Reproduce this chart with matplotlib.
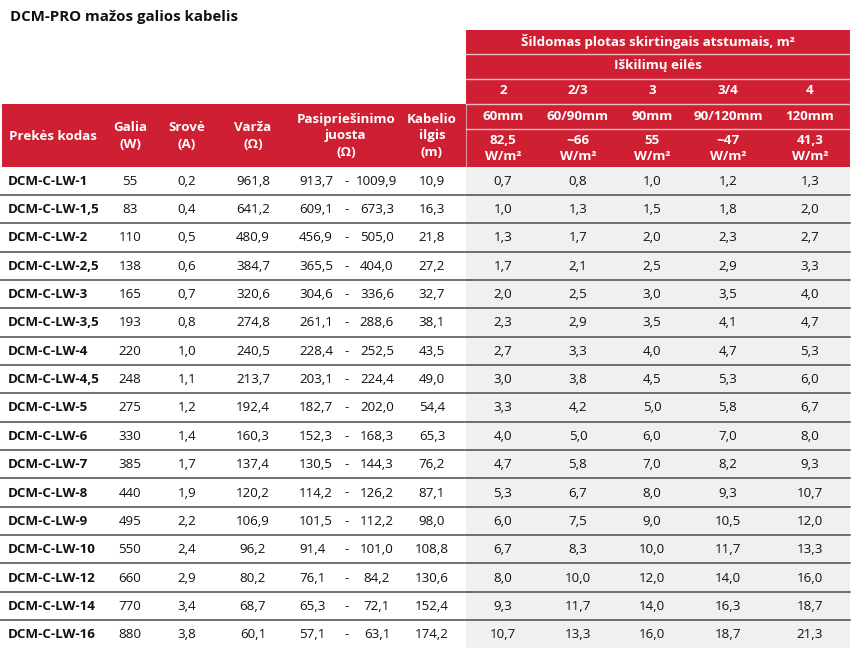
import matplotlib
matplotlib.use("Agg")
import matplotlib.pyplot as plt
from matplotlib.patches import Rectangle

plt.rcParams['font.family'] = ['Open Sans', 'DejaVu Sans']

title = "DCM-PRO mažos galios kabelis"
top_header = "Šildomas plotas skirtingais atstumais, m²"
sub_header = "Iškilimų eilės"
left_headers = ["Prekės kodas", "Galia\n(W)", "Srovė\n(A)", "Varža\n(Ω)",
                "Pasipriešinimo\njuosta\n(Ω)", "Kabelio\nilgis\n(m)"]
rows_labels = ["2", "2/3", "3", "3/4", "4"]
spacing_labels = ["60mm", "60/90mm", "90mm", "90/120mm", "120mm"]
power_labels = ["82,5\nW/m²", "~66\nW/m²", "55\nW/m²", "~47\nW/m²", "41,3\nW/m²"]

codes = ["DCM-C-LW-1", "DCM-C-LW-1,5", "DCM-C-LW-2", "DCM-C-LW-2,5", "DCM-C-LW-3",
         "DCM-C-LW-3,5", "DCM-C-LW-4", "DCM-C-LW-4,5", "DCM-C-LW-5", "DCM-C-LW-6",
         "DCM-C-LW-7", "DCM-C-LW-8", "DCM-C-LW-9", "DCM-C-LW-10", "DCM-C-LW-12",
         "DCM-C-LW-14", "DCM-C-LW-16"]
galia = [55, 83, 110, 138, 165, 193, 220, 248, 275, 330, 385, 440, 495, 550, 660, 770, 880]
srove = [0.2, 0.4, 0.5, 0.6, 0.7, 0.8, 1.0, 1.1, 1.2, 1.4, 1.7, 1.9, 2.2, 2.4, 2.9, 3.4, 3.8]
varza = [961.8, 641.2, 480.9, 384.7, 320.6, 274.8, 240.5, 213.7, 192.4, 160.3, 137.4,
         120.2, 106.9, 96.2, 80.2, 68.7, 60.1]
r_min = [913.7, 609.1, 456.9, 365.5, 304.6, 261.1, 228.4, 203.1, 182.7, 152.3, 130.5,
         114.2, 101.5, 91.4, 76.1, 65.3, 57.1]
r_max = [1009.9, 673.3, 505.0, 404.0, 336.6, 288.6, 252.5, 224.4, 202.0, 168.3, 144.3,
         126.2, 112.2, 101.0, 84.2, 72.1, 63.1]
ilgis = [10.9, 16.3, 21.8, 27.2, 32.7, 38.1, 43.5, 49.0, 54.4, 65.3, 76.2, 87.1, 98.0,
         108.8, 130.6, 152.4, 174.2]
area_2 = [0.7, 1.0, 1.3, 1.7, 2.0, 2.3, 2.7, 3.0, 3.3, 4.0, 4.7, 5.3, 6.0, 6.7, 8.0, 9.3, 10.7]
area_23 = [0.8, 1.3, 1.7, 2.1, 2.5, 2.9, 3.3, 3.8, 4.2, 5.0, 5.8, 6.7, 7.5, 8.3, 10.0, 11.7, 13.3]
area_3 = [1.0, 1.5, 2.0, 2.5, 3.0, 3.5, 4.0, 4.5, 5.0, 6.0, 7.0, 8.0, 9.0, 10.0, 12.0, 14.0, 16.0]
area_34 = [1.2, 1.8, 2.3, 2.9, 3.5, 4.1, 4.7, 5.3, 5.8, 7.0, 8.2, 9.3, 10.5, 11.7, 14.0, 16.3, 18.7]
area_4 = [1.3, 2.0, 2.7, 3.3, 4.0, 4.7, 5.3, 6.0, 6.7, 8.0, 9.3, 10.7, 12.0, 13.3, 16.0, 18.7, 21.3]

RED = "#cf1f33"
GREY = "#f0f0f0"
TXT = "#111111"
FS = 9.6

def fmt(v):
    return f"{v:.1f}".replace(".", ",")

fig = plt.figure(figsize=(8.56, 6.6), dpi=100)
ax = fig.add_axes([0, 0, 1, 1])
ax.set_xlim(0, 856)
ax.set_ylim(660, 0)
ax.axis("off")

# layout
x_left, x_mid, x_right = 2, 466, 850
y_head_top, y_l1, y_l2, y_l3, y_l4, y_head_bot = 29.5, 53.5, 78.5, 103.5, 128.5, 166.5
row_h = 28.35
n = len(codes)
y_bot = y_head_bot + n * row_h

ax.text(10, 17, title, fontsize=10.8, fontweight="bold", color=TXT, va="center", ha="left")

# header backgrounds
ax.add_patch(Rectangle((x_mid, y_head_top), x_right - x_mid, y_head_bot - y_head_top,
                       facecolor=RED, edgecolor="none"))
ax.add_patch(Rectangle((x_left, y_l3), x_mid - x_left, y_head_bot - y_l3,
                       facecolor=RED, edgecolor="none"))
for yy in [y_l1, y_l2, y_l3, y_l4]:
    ax.plot([x_mid, x_right], [yy, yy], color="white", lw=1.0, alpha=0.7)
ax.plot([x_mid, x_mid], [y_l3, y_head_bot], color="white", lw=0.8, alpha=0.5)

# grey data area
ax.add_patch(Rectangle((x_mid, y_head_bot), x_right - x_mid, y_bot - y_head_bot,
                       facecolor=GREY, edgecolor="none"))

right_cx = [503, 578, 652, 728, 810]
mid_r = (x_mid + x_right) / 2
hdr = dict(color="white", fontweight="bold", fontsize=FS, ha="center", va="center",
           linespacing=1.35)
ax.text(mid_r, (y_head_top + y_l1) / 2, top_header, **hdr)
ax.text(mid_r, (y_l1 + y_l2) / 2, sub_header, **hdr)
for cx, a, b, c in zip(right_cx, rows_labels, spacing_labels, power_labels):
    ax.text(cx, (y_l2 + y_l3) / 2, a, **hdr)
    ax.text(cx, (y_l3 + y_l4) / 2, b, **hdr)
    ax.text(cx, (y_l4 + y_head_bot) / 2 + 1, c, **hdr)

left_cx = [9, 130, 187, 253, 346, 432]
yc_left = (y_l3 + y_head_bot) / 2 + 1
for i, (cx, lab) in enumerate(zip(left_cx, left_headers)):
    kw = dict(hdr)
    if i == 0:
        kw["ha"] = "left"
    ax.text(cx, yc_left, lab, **kw)

# data rows
for i in range(n):
    yc = y_head_bot + (i + 0.5) * row_h + 0.5
    ax.text(8, yc, codes[i], fontsize=FS, fontweight="bold", color=TXT, ha="left", va="center")
    ax.text(left_cx[1], yc, str(galia[i]), fontsize=FS, color=TXT, ha="center", va="center")
    ax.text(left_cx[2], yc, fmt(srove[i]), fontsize=FS, color=TXT, ha="center", va="center")
    ax.text(left_cx[3], yc, fmt(varza[i]), fontsize=FS, color=TXT, ha="center", va="center")
    ax.text(299, yc, fmt(r_min[i]), fontsize=FS, color=TXT, ha="left", va="center")
    ax.text(347, yc, "-", fontsize=FS, color=TXT, ha="center", va="center")
    ax.text(377, yc, fmt(r_max[i]), fontsize=FS, color=TXT, ha="center", va="center")
    ax.text(left_cx[5], yc, fmt(ilgis[i]), fontsize=FS, color=TXT, ha="center", va="center")
    for cx, col in zip(right_cx, [area_2, area_23, area_3, area_34, area_4]):
        ax.text(cx, yc, fmt(col[i]), fontsize=FS, color=TXT, ha="center", va="center")
    if i < n - 1:
        yy = y_head_bot + (i + 1) * row_h
        ax.plot([x_left - 2, x_right], [yy, yy], color="#4a4a4a", lw=1.1)

fig.savefig("out.png", dpi=100)
